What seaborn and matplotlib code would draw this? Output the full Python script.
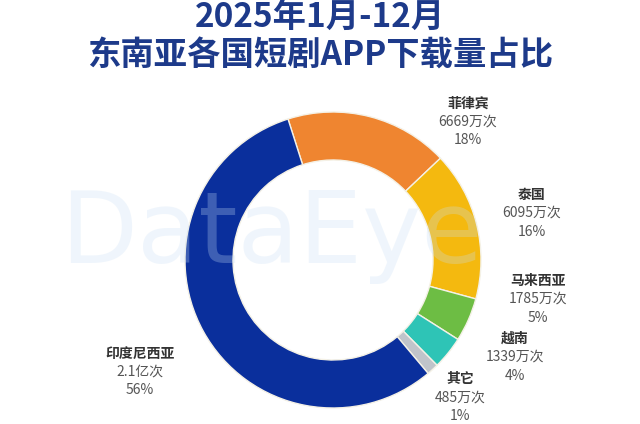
import matplotlib
matplotlib.use("Agg")
import matplotlib.pyplot as plt
import seaborn as sns
import numpy as np

# ---- data ----
countries = ["菲律宾", "泰国", "马来西亚", "越南", "其它", "印度尼西亚"]
downloads_wan = [6669, 6095, 1785, 1339, 485, 21000]   # 万次
value_labels = ["6669万次", "6095万次", "1785万次", "1339万次", "485万次", "2.1亿次"]
pct_labels = ["18%", "16%", "5%", "4%", "1%", "56%"]
title_lines = ["2025年1月-12月", "东南亚各国短剧APP下载量占比"]

# ---- style ----
sns.set_theme(style="white")
plt.rcParams["font.family"] = ["Noto Sans CJK SC", "DejaVu Sans"]
palette = sns.color_palette(["#ef8530", "#f4b90f", "#6dbd44", "#2ec4b6", "#c0c4ca", "#0a2f9c"])

W, H = 640, 424
fig = plt.figure(figsize=(W / 100, H / 100), dpi=100)
ax = fig.add_axes([0, 0, 1, 1])

cx, cy = 333, H - 260
R_out, R_in = 148, 100

wedges, _ = ax.pie(
    downloads_wan,
    colors=palette,
    startangle=107.7,
    counterclock=False,
    center=(cx, cy),
    radius=R_out,
    wedgeprops=dict(width=R_out - R_in, edgecolor="#f4f1e6", linewidth=1.0),
    frame=True,
)
ax.set_xlim(0, W)
ax.set_ylim(0, H)
ax.set_aspect("equal")
ax.axis("off")

# label block centres (offsets from donut centre, pixels; y up)
label_offsets = [(135, 138), (199, 47), (205, -39), (182, -97), (127, -138), (-193, -112)]
for name, val, pct, (dx, dy) in zip(countries, value_labels, pct_labels, label_offsets):
    x, y = cx + dx, cy + dy
    ax.text(x, y + 18.5, name, ha="center", va="center", fontsize=10,
            fontweight="bold", color="#333333")
    ax.text(x, y, val, ha="center", va="center", fontsize=10, color="#555555")
    ax.text(x, y - 18.5, pct, ha="center", va="center", fontsize=10, color="#555555")

# watermark (kept clear of the labels on the right)
ax.text(272, H - 236, "DataEye", ha="center", va="center", fontsize=72,
        family="DejaVu Sans", color="#c8def5", alpha=0.28, zorder=5)

# title
ax.text(W / 2, H - 17, title_lines[0], ha="center", va="center", fontsize=24,
        fontweight="bold", color="#1d3a8a")
ax.text(W / 2, H - 56, title_lines[1], ha="center", va="center", fontsize=24,
        fontweight="bold", color="#1d3a8a")

fig.savefig("out.png", dpi=100, facecolor="white")
